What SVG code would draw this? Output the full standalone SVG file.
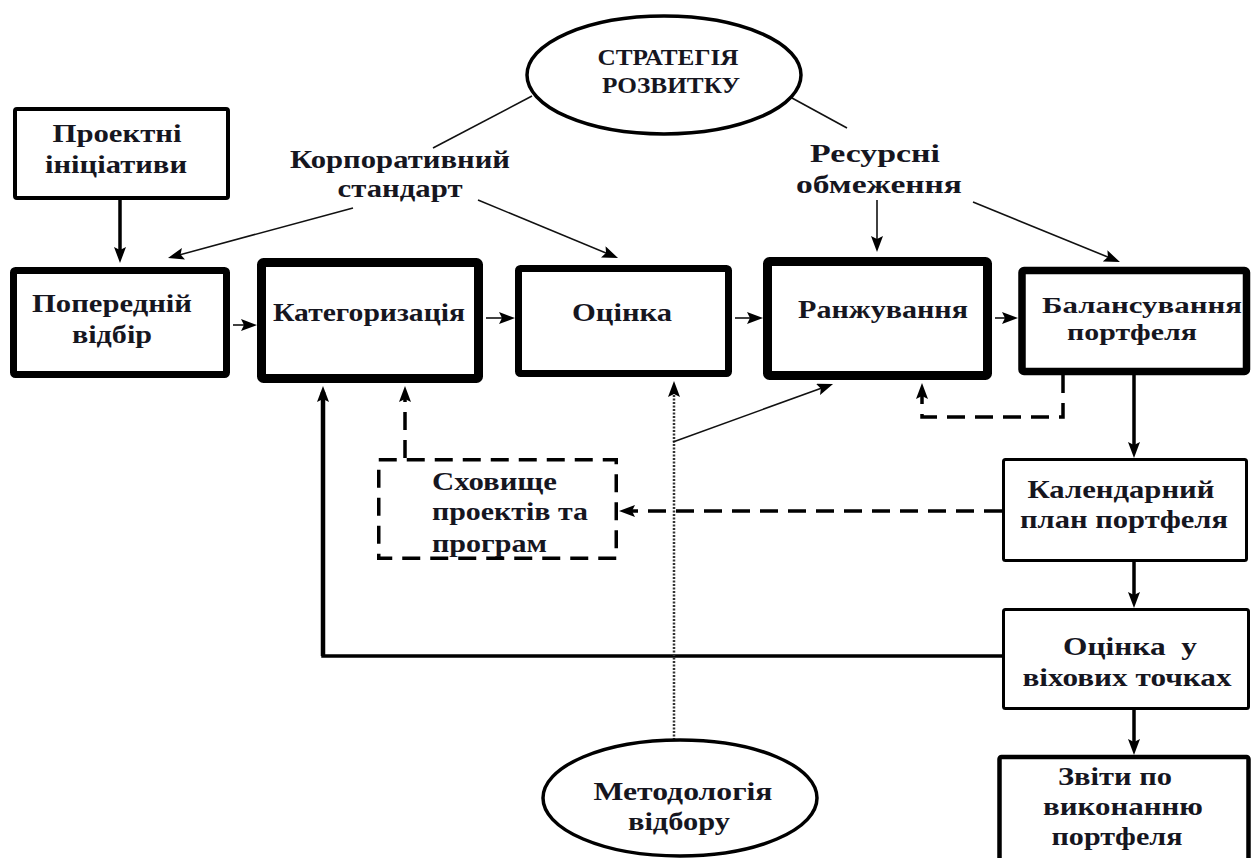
<svg xmlns="http://www.w3.org/2000/svg" width="1253" height="858" viewBox="0 0 1253 858">
  <style>
    .lbl { font-family: "Liberation Serif", "DejaVu Serif", serif; font-weight: bold; font-size: 26px; fill: #16161f; }
    .cap { font-size: 23px; }
    .tight { font-size: 23px; }
    .box { fill: #ffffff; stroke: #000000; }
    .oval { fill: #ffffff; stroke: #000000; stroke-width: 3.5; }
    .thin { fill: none; stroke: #111111; stroke-width: 1.6; }
    .solid { fill: none; stroke: #000000; stroke-width: 3.5; }
    .dash { fill: none; stroke: #000000; stroke-width: 3.5; stroke-dasharray: 18 10; }
    .dot { fill: none; stroke: #333333; stroke-width: 2.5; stroke-dasharray: 2 1.5; }
  </style>
  <defs>
    <marker id="head" viewBox="0 0 16 12" markerWidth="16" markerHeight="12" refX="10" refY="6" orient="auto" markerUnits="userSpaceOnUse">
      <path d="M0,0 L16,6 L0,12 L3,6 z" fill="#000000"/>
    </marker>
  </defs>
  <rect width="1253" height="858" fill="#ffffff"/>

  <!-- connectors -->
  <g id="connectors">
    <line class="thin" x1="532" y1="96" x2="433" y2="148"/>
    <line class="thin" x1="792" y1="98" x2="847" y2="128"/>
    <line class="solid" x1="120" y1="200" x2="120" y2="257" marker-end="url(#head)"/>
    <line class="thin" x1="353" y1="208" x2="173.8" y2="256.4" marker-end="url(#head)"/>
    <line class="thin" x1="478" y1="200" x2="612.5" y2="255.7" marker-end="url(#head)"/>
    <line class="thin" x1="877" y1="200" x2="877" y2="246" marker-end="url(#head)"/>
    <line class="thin" x1="973" y1="202" x2="1114.4" y2="259.7" marker-end="url(#head)"/>
    <line class="thin" x1="233" y1="325" x2="251" y2="325" marker-end="url(#head)"/>
    <line class="thin" x1="486" y1="318" x2="509" y2="318" marker-end="url(#head)"/>
    <line class="thin" x1="735" y1="318" x2="757" y2="318" marker-end="url(#head)"/>
    <line class="thin" x1="995" y1="318" x2="1012" y2="318" marker-end="url(#head)"/>
    <line class="solid" x1="1134" y1="375" x2="1134" y2="452" marker-end="url(#head)"/>
    <line class="solid" x1="1134" y1="562" x2="1134" y2="602" marker-end="url(#head)"/>
    <line class="solid" x1="1134" y1="710" x2="1134" y2="749" marker-end="url(#head)"/>
    <polyline class="solid" points="1002,656 323,656 323,392" stroke-width="3" marker-end="url(#head)"/>
    <line x1="323" y1="656" x2="323" y2="392" stroke="#000" stroke-width="4.5"/>
    <polyline class="dash" points="1063,375 1063,417 922,417 922,389" marker-end="url(#head)"/>
    <line class="dash" x1="1002" y1="511" x2="625" y2="511" marker-end="url(#head)"/>
    <line class="dash" x1="405" y1="458" x2="405" y2="392" marker-end="url(#head)"/>
    <line class="dot" x1="674" y1="740" x2="674" y2="387" marker-end="url(#head)"/>
    <line class="thin" x1="673" y1="442" x2="827.4" y2="386" marker-end="url(#head)"/>
  </g>

  <!-- free labels -->
  <g id="label-standard">
    <text class="lbl" x="400" y="168" text-anchor="middle" textLength="220" lengthAdjust="spacingAndGlyphs">Корпоративний</text>
    <text class="lbl" x="400" y="197" text-anchor="middle" textLength="125" lengthAdjust="spacingAndGlyphs">стандарт</text>
  </g>
  <g id="label-resources">
    <text class="lbl" x="875" y="162" text-anchor="middle" textLength="130" lengthAdjust="spacingAndGlyphs">Ресурсні</text>
    <text class="lbl" x="879" y="193" text-anchor="middle" textLength="166" lengthAdjust="spacingAndGlyphs">обмеження</text>
  </g>

  <!-- nodes -->
  <g id="strategy">
    <ellipse class="oval" cx="664" cy="75" rx="137" ry="59"/>
    <text class="lbl cap" x="668" y="65" text-anchor="middle" textLength="141" lengthAdjust="spacingAndGlyphs">СТРАТЕГІЯ</text>
    <text class="lbl cap" x="671" y="93" text-anchor="middle" textLength="138" lengthAdjust="spacingAndGlyphs">РОЗВИТКУ</text>
  </g>
  <g id="initiatives">
    <rect class="box" x="15" y="109" width="213" height="89" rx="2" stroke-width="4"/>
    <text class="lbl" x="117" y="142" text-anchor="middle" textLength="129" lengthAdjust="spacingAndGlyphs">Проектні</text>
    <text class="lbl" x="116" y="173" text-anchor="middle" textLength="142" lengthAdjust="spacingAndGlyphs">ініціативи</text>
  </g>
  <g id="preselection">
    <rect class="box" x="13.5" y="270.5" width="213" height="104" rx="2" stroke-width="7"/>
    <text class="lbl" x="112" y="312" text-anchor="middle" textLength="160" lengthAdjust="spacingAndGlyphs">Попередній</text>
    <text class="lbl" x="112" y="343" text-anchor="middle" textLength="80" lengthAdjust="spacingAndGlyphs">відбір</text>
  </g>
  <g id="categorization">
    <rect class="box" x="261.5" y="262.5" width="217" height="116" rx="2" stroke-width="9"/>
    <text class="lbl" x="369" y="321" text-anchor="middle" textLength="192" lengthAdjust="spacingAndGlyphs">Категоризація</text>
  </g>
  <g id="evaluation">
    <rect class="box" x="518.5" y="268.5" width="210" height="105" rx="2" stroke-width="7"/>
    <text class="lbl" x="622" y="321" text-anchor="middle" textLength="100" lengthAdjust="spacingAndGlyphs">Оцінка</text>
  </g>
  <g id="ranking">
    <rect class="box" x="767.5" y="261.5" width="220" height="114" rx="2" stroke-width="9"/>
    <text class="lbl" x="883" y="318" text-anchor="middle" textLength="170" lengthAdjust="spacingAndGlyphs">Ранжування</text>
  </g>
  <g id="balancing">
    <rect class="box" x="1022" y="270.5" width="224.5" height="101" rx="2" stroke-width="7.5"/>
    <text class="lbl tight" x="1142" y="313" text-anchor="middle" textLength="200" lengthAdjust="spacingAndGlyphs">Балансування</text>
    <text class="lbl tight" x="1132" y="340" text-anchor="middle" textLength="130" lengthAdjust="spacingAndGlyphs">портфеля</text>
  </g>
  <g id="repository">
    <rect x="378.75" y="459.75" width="237.5" height="98.5" fill="#ffffff" class="dash"/>
    <text class="lbl" x="432" y="490" textLength="125" lengthAdjust="spacingAndGlyphs">Сховище</text>
    <text class="lbl" x="432" y="520" textLength="156" lengthAdjust="spacingAndGlyphs">проектів та</text>
    <text class="lbl" x="432" y="552" textLength="115" lengthAdjust="spacingAndGlyphs">програм</text>
  </g>
  <g id="schedule">
    <rect class="box" x="1003.5" y="459.5" width="243" height="101" rx="2" stroke-width="3"/>
    <text class="lbl" x="1121" y="498" text-anchor="middle" textLength="187" lengthAdjust="spacingAndGlyphs">Календарний</text>
    <text class="lbl" x="1124" y="528" text-anchor="middle" textLength="208" lengthAdjust="spacingAndGlyphs">план портфеля</text>
  </g>
  <g id="milestones">
    <rect class="box" x="1003.5" y="609.5" width="245" height="99" rx="2" stroke-width="3"/>
    <text class="lbl" x="1130" y="655" text-anchor="middle" textLength="134" lengthAdjust="spacingAndGlyphs" xml:space="preserve">Оцінка  у</text>
    <text class="lbl" x="1127" y="686" text-anchor="middle" textLength="209" lengthAdjust="spacingAndGlyphs">віхових точках</text>
  </g>
  <g id="reports">
    <rect class="box" x="999.5" y="757" width="249" height="112" rx="2" stroke-width="4.5"/>
    <text class="lbl" x="1115" y="785" text-anchor="middle" textLength="114" lengthAdjust="spacingAndGlyphs">Звіти по</text>
    <text class="lbl" x="1123" y="815" text-anchor="middle" textLength="160" lengthAdjust="spacingAndGlyphs">виконанню</text>
    <text class="lbl" x="1117" y="845" text-anchor="middle" textLength="131" lengthAdjust="spacingAndGlyphs">портфеля</text>
  </g>
  <g id="methodology">
    <ellipse class="oval" cx="680" cy="798" rx="137" ry="58"/>
    <text class="lbl" x="683" y="800" text-anchor="middle" textLength="179" lengthAdjust="spacingAndGlyphs">Методологія</text>
    <text class="lbl" x="679" y="830" text-anchor="middle" textLength="102" lengthAdjust="spacingAndGlyphs">відбору</text>
  </g>
</svg>
